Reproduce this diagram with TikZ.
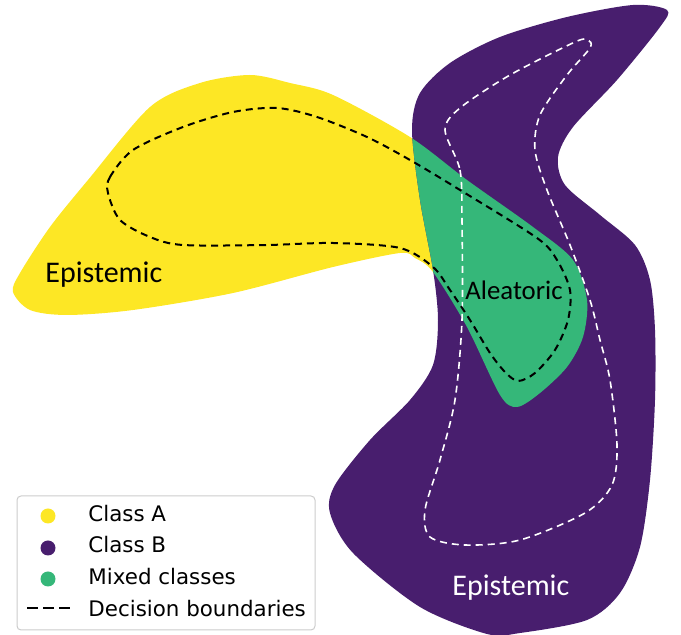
\documentclass[tikz,border=0pt]{standalone}
\usepackage{fontspec}
\setmainfont{Carlito}
\newfontfamily\legfont{DejaVu Sans}
\definecolor{classA}{HTML}{FDE725}
\definecolor{classB}{HTML}{481E6E}
\definecolor{mixed}{HTML}{35B779}
\newcommand\yellowblob{plot[smooth cycle] coordinates {(20,273) (50,227) (88,180) (150,107) (200,83) (250,75) (290,83) (333,95) (410,137) (467,180) (533,227) (573,260) (587,300) (583,337) (567,367) (540,393) (517,407) (500,395) (467,327) (433,272) (415,258) (400,253) (333,267) (233,293) (133,310) (67,315) (30,310) (13,292)}}
\newcommand\purpleblob{plot[smooth cycle] coordinates {(667,10) (660,27) (617,80) (573,127) (558,157) (565,185) (600,215) (635,245) (650,280) (655,330) (655,400) (650,480) (640,547) (620,593) (587,620) (520,633) (487,634) (420,607) (353,553) (330,513) (335,485) (370,440) (410,400) (433,365) (438,320) (433,270) (420,200) (412,130) (420,93) (450,63) (500,37) (567,17) (633,5)}}
\tikzset{
	blacksep/.style={black,line width=1pt,dash pattern=on 3.5pt off 2.5pt},
	whitesep/.style={white,line width=0.8pt,dash pattern=on 3.5pt off 2.5pt},
	legdot/.style={circle,inner sep=0pt,minimum size=7.5pt},
	legtext/.style={anchor=base west,inner sep=0pt,font=\legfont\fontsize{10.7pt}{12pt}\selectfont},
	blobtext/.style={anchor=base west,inner sep=0pt,font=\fontsize{15pt}{18pt}\selectfont}
}
\begin{document}
\begin{tikzpicture}[x=0.5pt,y=-0.5pt]
	\useasboundingbox (0,0) rectangle (681,635);
	\fill[classA] \yellowblob;
	\fill[classB] \purpleblob;
	\begin{scope}
		\clip \yellowblob;
		\fill[mixed] \purpleblob;
	\end{scope}
	\draw[whitesep] plot[smooth cycle] coordinates {(445,130) (460,170) (462,220) (462,320) (455,400) (440,460) (425,510) (430,537) (465,545) (520,540) (585,513) (612,485) (617,445) (610,380) (600,340) (590,300) (570,245) (547,190) (535,150) (540,115) (567,75) (590,48) (588,40) (575,42) (510,75) (460,108)};
	\draw[blacksep] plot[smooth cycle] coordinates {(108,193) (110,177) (133,150) (183,127) (233,112) (277,108) (317,117) (367,137) (410,160) (460,190) (537,238) (557,260) (570,290) (568,320) (555,350) (535,373) (518,381) (505,372) (490,353) (470,320) (450,290) (433,267) (400,248) (333,243) (267,245) (183,245) (150,237) (120,220)};
	\node[blobtext] (epiA) at (45,283) {Epistemic};
	\node[blobtext,font=\fontsize{13.4pt}{16pt}\selectfont] (alea) at (465,300) {Aleatoric};
	\node[blobtext,text=white] (epiB) at (452,596) {Epistemic};
	\draw[rounded corners=2pt,draw=black!20,fill=white,line width=0.5pt] (17,496) rectangle (315,630);
	\node[legdot,fill=classA] (dotA) at (48,516) {};
	\node[legdot,fill=classB] (dotB) at (48,548) {};
	\node[legdot,fill=mixed] (dotM) at (48,579) {};
	\draw[black,line width=1.35pt,dash pattern=on 5.5pt off 2.5pt] (27,608) -- (70,608);
	\node[legtext] (labA) at (88,522) {Class A};
	\node[legtext] (labB) at (88,553) {Class B};
	\node[legtext] (labM) at (88,585) {Mixed classes};
	\node[legtext] (labD) at (88,617) {Decision boundaries};
\end{tikzpicture}
\end{document}
